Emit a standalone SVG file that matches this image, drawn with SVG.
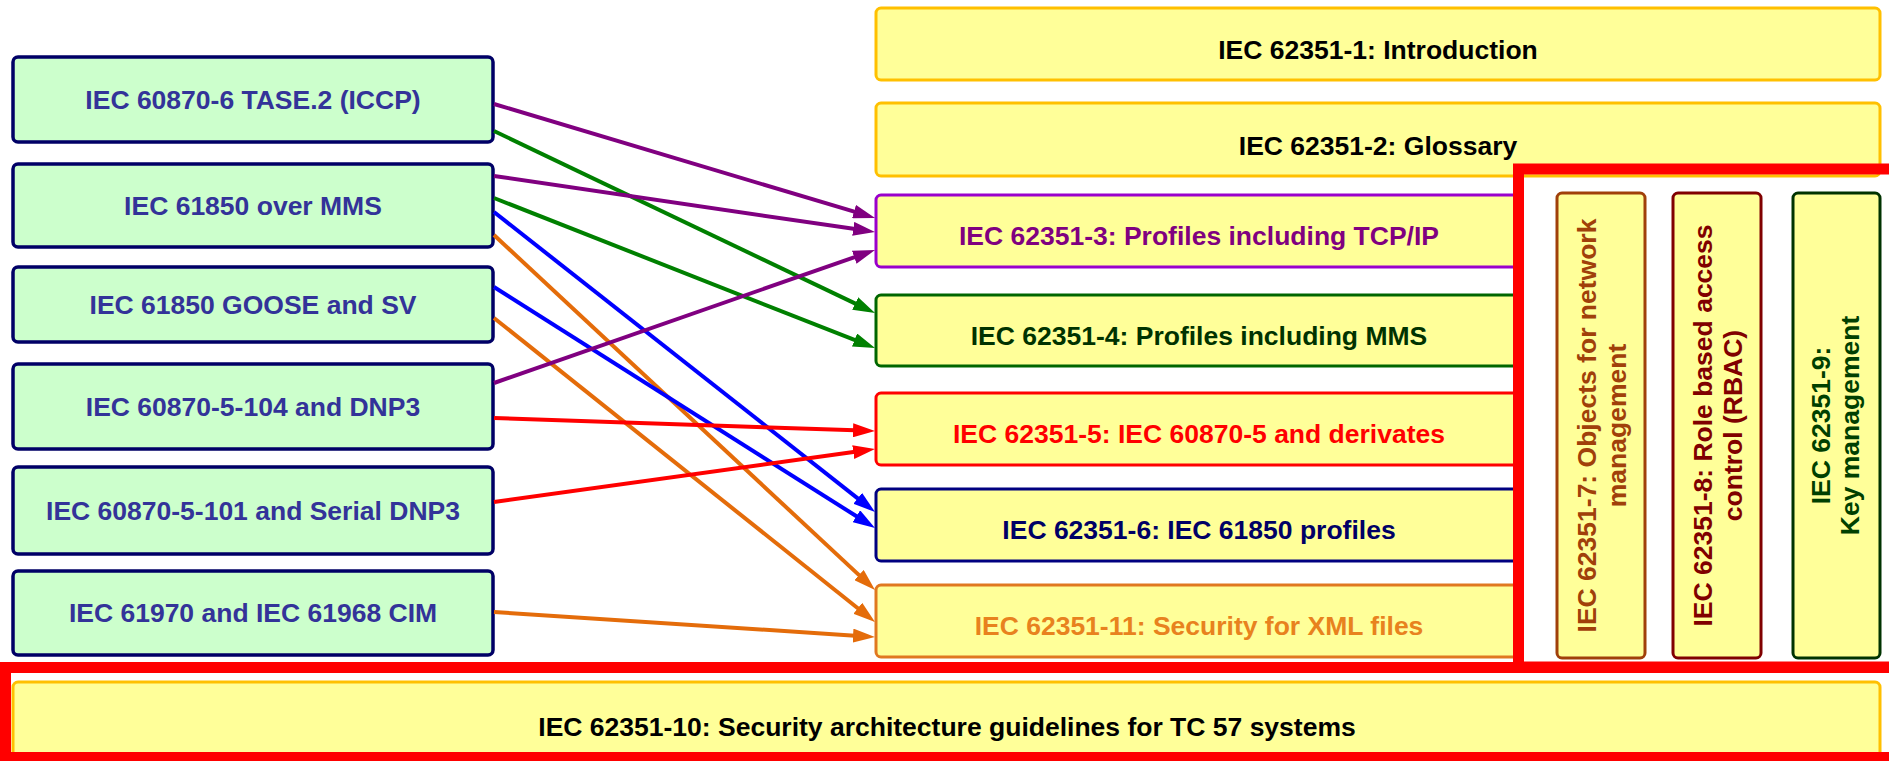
<svg xmlns="http://www.w3.org/2000/svg" width="1889" height="761" viewBox="0 0 1889 761">
<style>
.lbox{fill:#ccffcc;stroke:#000066;stroke-width:3.5}
.rbox{fill:#ffff99;stroke-width:3}
.t{font-family:"Liberation Sans",Arial,sans-serif;font-weight:bold;font-size:26.5px;text-anchor:middle}
.lt{fill:#333399}
.conn{fill:none;stroke-width:4}
.frame{fill:none;stroke:#ff0000;stroke-width:11}
</style>
<defs>
<marker id="ap" viewBox="0 0 22 14" markerWidth="22" markerHeight="14" markerUnits="userSpaceOnUse" refX="2" refY="7" orient="auto"><path d="M0,0 L22,7 L0,14 z" fill="#800080"/></marker>
<marker id="ag" viewBox="0 0 22 14" markerWidth="22" markerHeight="14" markerUnits="userSpaceOnUse" refX="2" refY="7" orient="auto"><path d="M0,0 L22,7 L0,14 z" fill="#008000"/></marker>
<marker id="ab" viewBox="0 0 22 14" markerWidth="22" markerHeight="14" markerUnits="userSpaceOnUse" refX="2" refY="7" orient="auto"><path d="M0,0 L22,7 L0,14 z" fill="#0000ff"/></marker>
<marker id="ao" viewBox="0 0 22 14" markerWidth="22" markerHeight="14" markerUnits="userSpaceOnUse" refX="2" refY="7" orient="auto"><path d="M0,0 L22,7 L0,14 z" fill="#e46c0a"/></marker>
<marker id="ar" viewBox="0 0 22 14" markerWidth="22" markerHeight="14" markerUnits="userSpaceOnUse" refX="2" refY="7" orient="auto"><path d="M0,0 L22,7 L0,14 z" fill="#ff0000"/></marker>
</defs>

<!-- left nodes -->
<g id="n-tase2"><rect class="lbox" x="13" y="57" width="480" height="85" rx="5"/><text class="t lt" x="253" y="109">IEC 60870-6 TASE.2 (ICCP)</text></g>
<g id="n-61850mms"><rect class="lbox" x="13" y="164" width="480" height="83" rx="5"/><text class="t lt" x="253" y="215">IEC 61850 over MMS</text></g>
<g id="n-goose"><rect class="lbox" x="13" y="267" width="480" height="75" rx="5"/><text class="t lt" x="253" y="314">IEC 61850 GOOSE and SV</text></g>
<g id="n-104"><rect class="lbox" x="13" y="364" width="480" height="85" rx="5"/><text class="t lt" x="253" y="416">IEC 60870-5-104 and DNP3</text></g>
<g id="n-101"><rect class="lbox" x="13" y="467" width="480" height="87" rx="5"/><text class="t lt" x="253" y="520">IEC 60870-5-101 and Serial DNP3</text></g>
<g id="n-cim"><rect class="lbox" x="13" y="571" width="480" height="84" rx="5"/><text class="t lt" x="253" y="622">IEC 61970 and IEC 61968 CIM</text></g>

<!-- right nodes -->
<g id="p1"><rect class="rbox" x="876" y="8" width="1004" height="72" rx="5" stroke="#ffc000"/><text class="t" x="1378" y="59" fill="#000000">IEC 62351-1: Introduction</text></g>
<g id="p2"><rect class="rbox" x="876" y="103" width="1004" height="73" rx="5" stroke="#ffc000"/><text class="t" x="1378" y="155" fill="#000000">IEC 62351-2: Glossary</text></g>
<g id="p3"><rect class="rbox" x="876" y="195" width="646" height="72" rx="5" stroke="#9900cc"/><text class="t" x="1199" y="245" fill="#800080">IEC 62351-3: Profiles including TCP/IP</text></g>
<g id="p4"><rect class="rbox" x="876" y="295" width="646" height="71" rx="5" stroke="#006600"/><text class="t" x="1199" y="345" fill="#003300">IEC 62351-4: Profiles including MMS</text></g>
<g id="p5"><rect class="rbox" x="876" y="393" width="646" height="72" rx="5" stroke="#ff0000"/><text class="t" x="1199" y="443" fill="#ff0000">IEC 62351-5: IEC 60870-5 and derivates</text></g>
<g id="p6"><rect class="rbox" x="876" y="489" width="646" height="72" rx="5" stroke="#000080"/><text class="t" x="1199" y="539" fill="#000066">IEC 62351-6: IEC 61850 profiles</text></g>
<g id="p11"><rect class="rbox" x="876" y="585" width="646" height="72" rx="5" stroke="#e07820"/><text class="t" x="1199" y="635" fill="#e8821e">IEC 62351-11: Security for XML files</text></g>

<g id="p7"><rect class="rbox" x="1557" y="193" width="88" height="465" rx="5" stroke="#a0400a"/><text class="t" transform="translate(1601,425.5) rotate(-90)" fill="#a0400a"><tspan x="0" y="-5">IEC 62351-7: Objects for network</tspan><tspan x="0" y="25">management</tspan></text></g>
<g id="p8"><rect class="rbox" x="1673" y="193" width="88" height="465" rx="5" stroke="#800000"/><text class="t" transform="translate(1717,425.5) rotate(-90)" fill="#800000"><tspan x="0" y="-5">IEC 62351-8: Role based access</tspan><tspan x="0" y="25">control (RBAC)</tspan></text></g>
<g id="p9"><rect class="rbox" x="1793" y="193" width="87" height="465" rx="5" stroke="#003300"/><text class="t" transform="translate(1836.5,425.5) rotate(-90)" fill="#004000"><tspan x="0" y="-7">IEC 62351-9:</tspan><tspan x="0" y="22">Key management</tspan></text></g>

<g id="p10"><rect class="rbox" x="13" y="682" width="1867" height="76" rx="5" stroke="#ffc000"/><text class="t" x="947" y="736" fill="#000000">IEC 62351-10: Security architecture guidelines for TC 57 systems</text></g>

<!-- connectors -->
<g id="connectors">
<path class="conn" stroke="#800080" marker-end="url(#ap)" d="M494,104 L855.9,212.2"/>
<path class="conn" stroke="#008000" marker-end="url(#ag)" d="M494,131 L857,304.4"/>
<path class="conn" stroke="#800080" marker-end="url(#ap)" d="M494,176 L855.2,229.1"/>
<path class="conn" stroke="#008000" marker-end="url(#ag)" d="M494,198 L856.4,340.7"/>
<path class="conn" stroke="#0000ff" marker-end="url(#ab)" d="M494,212 L859.3,499.6"/>
<path class="conn" stroke="#e46c0a" marker-end="url(#ao)" d="M494,235 L860.4,576.4"/>
<path class="conn" stroke="#0000ff" marker-end="url(#ab)" d="M494,287 L858.1,517.3"/>
<path class="conn" stroke="#e46c0a" marker-end="url(#ao)" d="M494,318 L859.4,609.5"/>
<path class="conn" stroke="#800080" marker-end="url(#ap)" d="M494,383 L856.1,256.6"/>
<path class="conn" stroke="#ff0000" marker-end="url(#ar)" d="M494,418 L855,430.3"/>
<path class="conn" stroke="#ff0000" marker-end="url(#ar)" d="M494,502 L855.2,451.8"/>
<path class="conn" stroke="#e46c0a" marker-end="url(#ao)" d="M494,612 L855,635.7"/>
</g>

<!-- highlight frames -->
<g id="highlights">
<rect class="frame" x="1518.5" y="169" width="400" height="498"/>
<rect class="frame" x="5.5" y="667.5" width="1920" height="90"/>
</g>
</svg>
